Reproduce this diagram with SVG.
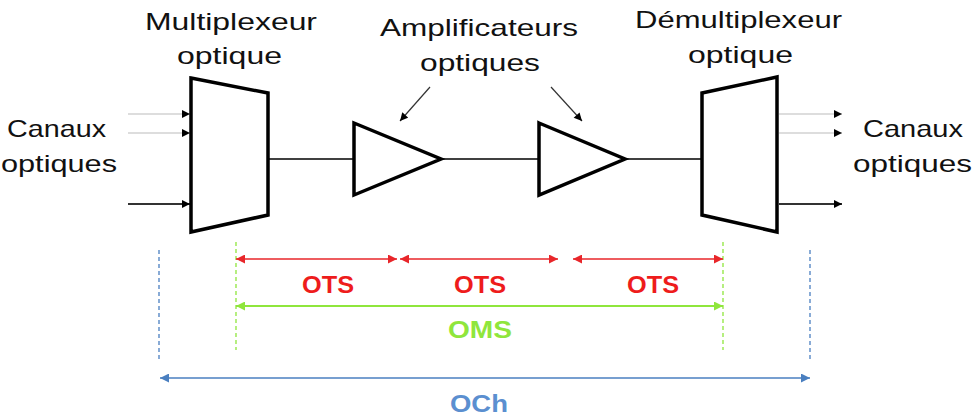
<svg xmlns="http://www.w3.org/2000/svg" width="976" height="418" viewBox="0 0 976 418">
<defs>
<style>
.lbl{font-family:"Liberation Sans","Open Sans",sans-serif;font-size:24px;fill:#111;text-anchor:middle}
.b{font-family:"Liberation Sans","Open Sans",sans-serif;font-weight:bold;font-size:23px;text-anchor:middle}
.shape{fill:#fff;stroke:#000;stroke-width:3.5;stroke-linejoin:miter}
.wire{stroke:#000;stroke-width:1.5;fill:none}
.thin{stroke:#bbb;stroke-width:1.2;fill:none}
.dark{stroke:#333;stroke-width:2;fill:none}
</style>
<marker id="ak" viewBox="0 0 10 10" refX="10" refY="5" markerWidth="10" markerHeight="8" markerUnits="userSpaceOnUse" orient="auto"><path d="M0,0L10,5L0,10z" fill="#000"/></marker>
<marker id="ar" viewBox="0 0 10 10" refX="10" refY="5" markerWidth="10" markerHeight="9" markerUnits="userSpaceOnUse" orient="auto-start-reverse"><path d="M0,0L10,5L0,10z" fill="#e8262a"/></marker>
<marker id="ag" viewBox="0 0 10 10" refX="10" refY="5" markerWidth="10" markerHeight="9" markerUnits="userSpaceOnUse" orient="auto-start-reverse"><path d="M0,0L10,5L0,10z" fill="#8fe63c"/></marker>
<marker id="ab" viewBox="0 0 10 10" refX="10" refY="5" markerWidth="10" markerHeight="9" markerUnits="userSpaceOnUse" orient="auto-start-reverse"><path d="M0,0L10,5L0,10z" fill="#4a7fc0"/></marker>
</defs>
<rect width="976" height="418" fill="#fff"/>

<g id="connectors">
<line class="thin" x1="128" y1="114" x2="190" y2="114" marker-end="url(#ak)"/>
<line class="thin" x1="128" y1="133" x2="190" y2="133" marker-end="url(#ak)"/>
<line class="dark" x1="128" y1="204" x2="190" y2="204" marker-end="url(#ak)"/>
<line class="wire" x1="268" y1="159" x2="354" y2="159"/>
<line class="wire" x1="441" y1="159" x2="539" y2="159"/>
<line class="wire" x1="625" y1="159" x2="702" y2="159"/>
<line class="thin" x1="779" y1="114" x2="842" y2="114" marker-end="url(#ak)"/>
<line class="thin" x1="779" y1="133" x2="842" y2="133" marker-end="url(#ak)"/>
<line class="dark" x1="779" y1="204" x2="842" y2="204" marker-end="url(#ak)"/>
<line stroke="#333" stroke-width="1.2" x1="430" y1="87" x2="400" y2="121" marker-end="url(#ak)"/>
<line stroke="#333" stroke-width="1.2" x1="551" y1="87" x2="582" y2="121" marker-end="url(#ak)"/>
</g>

<g id="mux">
<polygon class="shape" points="191,78 268,93 268,215 191,232"/>
<text class="lbl" x="231" y="30" textLength="172" lengthAdjust="spacingAndGlyphs">Multiplexeur</text>
<text class="lbl" x="229.5" y="64" textLength="105" lengthAdjust="spacingAndGlyphs">optique</text>
</g>
<g id="amp1"><polygon class="shape" points="354,123 441,159 354,195"/></g>
<g id="amp2"><polygon class="shape" points="539,123 625,159 539,195"/></g>
<g id="amp-label">
<text class="lbl" x="479" y="36" textLength="198" lengthAdjust="spacingAndGlyphs">Amplificateurs</text>
<text class="lbl" x="480" y="71" textLength="120" lengthAdjust="spacingAndGlyphs">optiques</text>
</g>
<g id="demux">
<polygon class="shape" points="702,93 777,77 777,232 702,215"/>
<text class="lbl" x="738.5" y="28" textLength="207" lengthAdjust="spacingAndGlyphs">Démultiplexeur</text>
<text class="lbl" x="740.5" y="63" textLength="105" lengthAdjust="spacingAndGlyphs">optique</text>
</g>
<g id="in-label">
<text class="lbl" x="56.5" y="137" textLength="99" lengthAdjust="spacingAndGlyphs">Canaux</text>
<text class="lbl" x="59" y="172" textLength="116" lengthAdjust="spacingAndGlyphs">optiques</text>
</g>
<g id="out-label">
<text class="lbl" x="913" y="137" textLength="100" lengthAdjust="spacingAndGlyphs">Canaux</text>
<text class="lbl" x="912.5" y="172" textLength="119" lengthAdjust="spacingAndGlyphs">optiques</text>
</g>

<g id="spans">
<line stroke="#8fe63c" stroke-width="1.3" stroke-dasharray="4,3" x1="236" y1="242" x2="236" y2="350"/>
<line stroke="#8fe63c" stroke-width="1.3" stroke-dasharray="4,3" x1="723" y1="242" x2="723" y2="350"/>
<line stroke="#4a7fc0" stroke-width="1.3" stroke-dasharray="4,3" x1="159" y1="250" x2="159" y2="360"/>
<line stroke="#4a7fc0" stroke-width="1.3" stroke-dasharray="4,3" x1="810" y1="250" x2="810" y2="360"/>
<line stroke="#e8262a" stroke-width="1.5" x1="236" y1="259" x2="397" y2="259" marker-start="url(#ar)" marker-end="url(#ar)"/>
<line stroke="#e8262a" stroke-width="1.5" x1="400" y1="259" x2="558" y2="259" marker-start="url(#ar)" marker-end="url(#ar)"/>
<line stroke="#e8262a" stroke-width="1.5" x1="573" y1="259" x2="723" y2="259" marker-start="url(#ar)" marker-end="url(#ar)"/>
<line stroke="#8fe63c" stroke-width="1.8" x1="236" y1="306" x2="723" y2="306" marker-start="url(#ag)" marker-end="url(#ag)"/>
<line stroke="#4a7fc0" stroke-width="1.5" x1="160" y1="378" x2="810" y2="378" marker-start="url(#ab)" marker-end="url(#ab)"/>
<text class="b" x="328" y="293" fill="#ee1c1c" textLength="52" lengthAdjust="spacingAndGlyphs">OTS</text>
<text class="b" x="480" y="293" fill="#ee1c1c" textLength="52" lengthAdjust="spacingAndGlyphs">OTS</text>
<text class="b" x="653" y="293" fill="#ee1c1c" textLength="52" lengthAdjust="spacingAndGlyphs">OTS</text>
<text class="b" x="480" y="338" fill="#8fe63c" textLength="64" lengthAdjust="spacingAndGlyphs">OMS</text>
<text class="b" x="479" y="412" fill="#5b8fd0" textLength="58" lengthAdjust="spacingAndGlyphs">OCh</text>
</g>
</svg>
